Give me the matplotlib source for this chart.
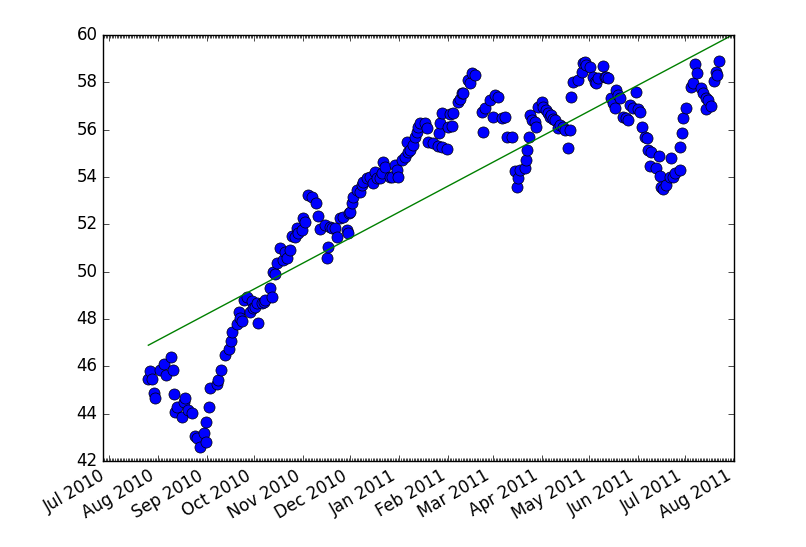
import datetime as dt
import matplotlib
matplotlib.use('Agg')
import matplotlib.pyplot as plt
import matplotlib.dates as mdates
import numpy as np

# days after 1 Aug 2010
start = dt.datetime(2010, 8, 1)
days = [-5.9, -4.6, -3.5, -2.5, -1.9, 1.3, 3.8, 5.5, 8.7, 9.4, 10.6, 11.2, 12.3,
        15.4, 16.4, 17.5, 19.0, 21.7, 23.8, 24.9, 26.5, 29.1, 30.3, 30.8, 32.2,
        32.9, 37.5, 37.9, 40.1, 42.8, 44.9, 46.6, 47.2, 50.2, 51.8, 52.3, 53.3,
        54.4, 56.5, 58.2, 59.7, 60.3, 61.8, 62.8, 63.8, 66.0, 67.0, 68.1, 71.2,
        72.3, 73.3, 74.4, 75.5, 77.6, 79.6, 80.7, 81.8, 83.9, 85.0, 87.0, 88.1,
        89.1, 91.3, 92.3, 93.4, 95.4, 97.6, 100.3, 101.8, 102.8, 106.0, 107.1,
        108.1, 108.8, 110.2, 112.3, 113.4, 115.5, 117.6, 119.7, 120.7, 121.2,
        121.8, 122.9, 123.9, 126.0, 128.1, 129.2, 130.2, 132.4, 134.4, 136.5,
        137.6, 138.7, 140.8, 141.8, 142.9, 143.6, 147.1, 148.2, 150.3, 151.3,
        152.3, 154.5, 156.6, 157.6, 158.7, 159.7, 161.8, 162.9, 164.0, 165.0,
        166.1, 169.2, 170.7, 171.3, 174.5, 177.6, 178.1, 178.7, 179.8, 180.3,
        182.9, 183.9, 185.0, 186.1, 187.1, 190.3, 191.3, 192.4, 193.4, 196.6,
        197.7, 198.7, 200.8, 205.1, 206.1, 207.1, 210.3, 212.4, 213.5, 215.5,
        217.7, 219.8, 220.9, 224.0, 226.1, 227.2, 228.2, 229.3, 232.4, 233.1,
        233.7, 235.1, 235.6, 236.7, 238.7, 239.8, 240.8, 243.0, 244.0, 246.1,
        247.2, 248.2, 249.3, 250.3, 251.4, 253.5, 254.5, 256.6, 257.7, 259.8,
        260.9, 261.9, 263.0, 266.1, 268.3, 269.3, 270.4, 271.4, 273.5, 275.6,
        276.7, 277.7, 278.8, 281.9, 283.0, 284.1, 285.1, 287.2, 288.2, 289.3,
        290.4, 291.4, 292.5, 294.6, 296.7, 297.7, 298.8, 300.9, 303.0, 304.0,
        305.4, 306.6, 308.3, 309.5, 310.4, 311.8, 312.5, 315.7, 317.3, 317.8,
        318.8, 319.8, 322.0, 324.1, 325.2, 326.2, 327.2, 330.4, 330.8, 332.1,
        332.5, 334.2, 337.8, 338.8, 339.9, 341.3, 344.1, 345.1, 346.8, 347.3,
        348.3, 350.4, 351.9, 353.2, 354.0, 355.2]
price = [45.49, 45.82, 45.45, 44.86, 44.65, 45.85, 46.10, 45.63, 46.38, 45.85,
         44.83, 44.06, 44.29, 43.85, 44.50, 44.65, 44.15, 44.04, 43.07, 42.96,
         42.58, 43.17, 42.79, 43.66, 44.29, 45.10, 45.24, 45.42, 45.85, 46.48,
         46.72, 47.08, 47.44, 47.78, 48.31, 48.03, 47.90, 48.80, 48.94, 48.31,
         48.75, 48.45, 48.52, 48.66, 47.84, 48.68, 48.73, 48.80, 49.32, 48.94,
         50.00, 49.90, 50.35, 50.99, 50.49, 50.84, 50.56, 50.92, 51.51, 51.45,
         51.83, 51.62, 51.76, 52.25, 52.11, 53.24, 53.17, 52.89, 52.35, 51.79,
         51.97, 50.56, 51.03, 51.87, 51.83, 51.83, 51.45, 52.25, 52.32, 51.76,
         51.62, 52.47, 52.53, 52.89, 53.17, 53.45, 53.38, 53.66, 53.80, 53.94,
         54.01, 53.73, 54.22, 53.94, 53.94, 54.16, 54.65, 54.43, 54.01, 54.01,
         54.51, 54.30, 54.01, 54.72, 54.86, 55.49, 55.07, 55.14, 55.35, 55.70,
         55.91, 56.12, 56.27, 56.27, 56.06, 55.49, 55.42, 55.31, 55.85, 56.27,
         56.69, 55.28, 55.17, 56.12, 56.66, 56.15, 56.72, 57.18, 57.28, 57.54,
         57.56, 58.10, 57.96, 58.38, 58.31, 56.76, 55.91, 56.90, 57.25, 56.55,
         57.46, 57.39, 56.48, 56.55, 55.70, 55.68, 54.27, 53.59, 53.94, 54.30,
         54.37, 54.72, 55.14, 55.68, 56.62, 56.40, 56.34, 56.10, 56.97, 57.18,
         56.97, 56.83, 56.69, 56.55, 56.62, 56.44, 56.41, 56.06, 56.20, 56.12,
         55.99, 55.21, 55.99, 57.39, 58.03, 58.10, 58.45, 58.80, 58.87, 58.73,
         58.66, 58.24, 58.03, 57.96, 58.17, 58.69, 58.24, 58.24, 58.17, 57.33,
         57.11, 56.90, 57.68, 57.46, 57.33, 56.55, 56.48, 56.41, 57.04, 56.90,
         57.60, 56.86, 56.76, 56.12, 55.70, 55.63, 55.14, 54.48, 55.07, 54.37,
         54.89, 54.04, 53.59, 53.48, 53.66, 54.01, 54.79, 53.99, 54.18, 54.30,
         55.28, 55.87, 56.48, 56.90, 57.82, 57.96, 58.77, 58.38, 57.75, 57.54,
         56.86, 57.33, 57.25, 57.00, 58.07, 58.45, 58.31, 58.91]

plt.style.use('classic')
fig = plt.figure(figsize=(8.06, 5.47), dpi=100)
ax = fig.add_axes([0.128, 0.157, 0.783, 0.779])

base = mdates.date2num(start)
d = np.array(days)
ax.plot(base + d, price, 'o', color='b', markersize=8)

# straight-line trend through the points, carried on to the end of July 2011
k, b = np.polyfit(d, price, 1)
tday = np.arange(days[0], 365.5, 1.0)
ax.plot(base + tday, k * tday + b, 'g-')

ax.set_xlim(dt.datetime(2010, 6, 27, 12), dt.datetime(2011, 8, 1))
ax.set_ylim(42, 60)
ax.xaxis.set_major_locator(mdates.MonthLocator())
ax.xaxis.set_minor_locator(mdates.DayLocator())
ax.xaxis.set_major_formatter(mdates.DateFormatter('%b %Y'))
for lab in ax.get_xticklabels():
    lab.set_rotation(30)
    lab.set_ha('right')

fig.savefig('out.png', dpi=100, facecolor='white')
